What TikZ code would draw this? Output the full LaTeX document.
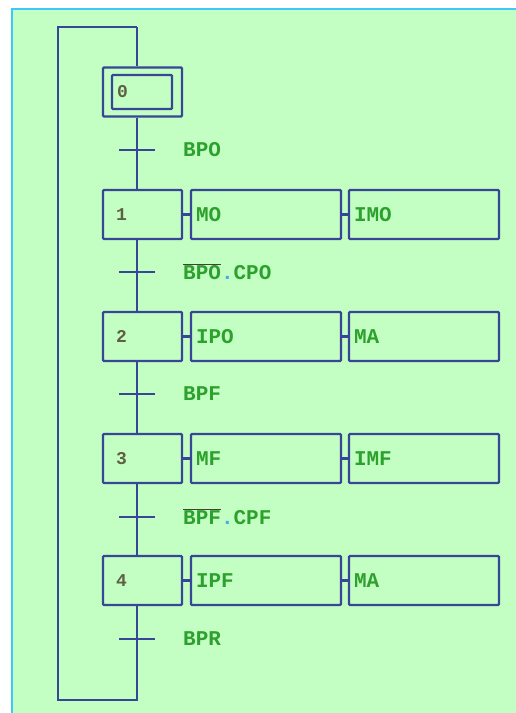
\documentclass[tikz,border=0pt]{standalone}
\usepackage{fontspec}
\usepackage{xcolor}
\usepackage{tikz}
\setmonofont{Liberation Mono}
\definecolor{bgreen}{RGB}{195,255,195}
\definecolor{frameblue}{RGB}{60,200,250}
\definecolor{linkblue}{RGB}{55,70,150}
\definecolor{txtgreen}{RGB}{45,160,45}
\definecolor{numgray}{RGB}{95,95,70}
\definecolor{dotblue}{RGB}{70,170,230}
\newcommand{\grafnot}[1]{{\color{numgray!70!black}$\overline{\textcolor{txtgreen}{\mbox{#1}}}$}}

\begin{document}
\begin{tikzpicture}[x=1pt, y=-1pt,
    every node/.style={font=\ttfamily\bfseries\fontsize{21}{24}\selectfont},
    stepbox/.style={draw=linkblue, line width=2.2pt, rounded corners=1pt, minimum width=79pt, minimum height=49pt, text width=53pt, inner xsep=13pt, align=left, text=numgray, font=\ttfamily\bfseries\fontsize{18}{24}\selectfont},
    actbox/.style={draw=linkblue, line width=2.2pt, rounded corners=1pt, minimum width=150pt, minimum height=49pt, text width=140pt, inner xsep=5pt, align=left, text=txtgreen},
    cond/.style={anchor=west, inner sep=0pt, text=txtgreen},
    link/.style={draw=linkblue, line width=2.2pt}]
    \useasboundingbox (0,0) rectangle (516,713);
    \fill[bgreen] (12,9) rectangle (516,713);
    \draw[frameblue, line width=2pt] (12,713) -- (12,9) -- (516,9);

    % initial step
    \node[stepbox] (s0) at (142.5,92) {};
    \node[stepbox, minimum width=60pt, minimum height=34pt, text width=50pt, inner xsep=5pt] (s0i) at (142,92) {0};

    % steps and actions
    \foreach \n/\y/\a/\b in {1/214.5/MO/IMO, 2/336.5/IPO/MA, 3/458.5/MF/IMF, 4/580.5/IPF/MA} {
        \node[stepbox] (s\n) at (142.5,\y) {\n};
        \node[actbox] (a\n) at (266,\y) {\a};
        \node[actbox] (b\n) at (424,\y) {\b};
        \draw[link] (s\n.east) -- (a\n.west);
        \draw[link] (a\n.east) -- (b\n.west);
    }

    % spine
    \coordinate (top) at (137,27);
    \coordinate (topl) at (58,27);
    \coordinate (bot) at (137,700);
    \coordinate (botl) at (58,700);
    \draw[link] (top) -- (s0.north -| top);
    \foreach \p/\q in {s0/s1, s1/s2, s2/s3, s3/s4}
        \draw[link] (\p.south -| top) -- (\q.north -| top);
    \draw[link] (s4.south -| top) -- (bot) -- (botl) -- (topl) -- (top);

    % transitions
    \foreach \y in {150, 272, 394, 517, 639}
        \draw[link] (119,\y) -- (155,\y);
    \node[cond] (t0) at (183,150) {BPO};
    \node[cond] (t1) at (183,272) {\grafnot{BPO}\textcolor{dotblue}{.}CPO};
    \node[cond] (t2) at (183,394) {BPF};
    \node[cond] (t3) at (183,517) {\grafnot{BPF}\textcolor{dotblue}{.}CPF};
    \node[cond] (t4) at (183,639) {BPR};
\end{tikzpicture}
\end{document}
